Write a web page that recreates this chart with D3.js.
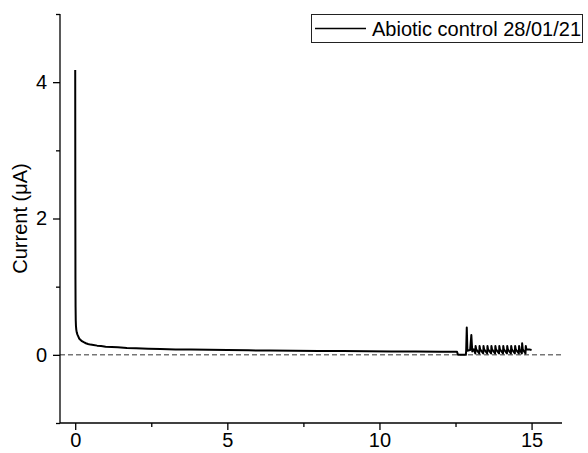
<!DOCTYPE html>
<html>
<head>
<meta charset="utf-8">
<script src="https://cdn.jsdelivr.net/npm/d3@7"></script>
<style>
  html, body { margin: 0; padding: 0; background: #fff; }
  svg { display: block; font-family: Arial, "Liberation Sans", sans-serif; }
</style>
</head>
<body>
<svg id="chart" width="588" height="453"></svg>
<script>
// ---- Data ----
const seriesName = "Abiotic control 28/01/21";
const time = [
  0, 0.004, 0.008, 0.012, 0.018, 0.025, 0.035, 0.05, 0.07, 0.1, 0.13, 0.17, 0.22, 0.28, 0.35, 0.42,
  0.5, 0.6, 0.72, 0.85, 1.0, 1.2, 1.4, 1.7, 2.0, 2.4, 2.8, 3.3, 3.8, 4.4, 5.0, 5.7, 6.4, 7.2,
  8.0, 8.8, 9.6, 10.4, 11.2, 12.0, 12.55,
  12.58, 12.84, 12.85, 12.87, 12.89, 12.98, 13.02, 13.05, 13.10,
  13.15, 13.16, 13.18, 13.28, 13.29, 13.31, 13.41, 13.42, 13.44, 13.54, 13.55, 13.57,
  13.67, 13.68, 13.70, 13.80, 13.81, 13.83, 13.93, 13.94, 13.96, 14.06, 14.07, 14.09,
  14.19, 14.20, 14.22, 14.32, 14.33, 14.35, 14.45, 14.46, 14.48, 14.58, 14.59, 14.61,
  14.68, 14.69, 14.71, 14.80, 14.81, 14.83, 14.92, 15.0
];
const current = [
  4.18, 2.2, 1.1, 0.7, 0.5, 0.42, 0.37, 0.33, 0.30, 0.27, 0.24, 0.22, 0.20, 0.185, 0.17, 0.16,
  0.15, 0.145, 0.135, 0.13, 0.12, 0.115, 0.11, 0.10, 0.095, 0.09, 0.085, 0.08, 0.077, 0.073, 0.07, 0.066, 0.063, 0.06,
  0.058, 0.055, 0.053, 0.05, 0.048, 0.046, 0.045,
  0.0, 0.0, 0.06, 0.40, 0.06, 0.07, 0.29, 0.05, 0.08,
  0.02, 0.13, 0.08, 0.02, 0.13, 0.08, 0.02, 0.13, 0.08, 0.02, 0.13, 0.08,
  0.02, 0.13, 0.08, 0.02, 0.13, 0.08, 0.02, 0.13, 0.08, 0.02, 0.13, 0.08,
  0.02, 0.13, 0.08, 0.02, 0.13, 0.08, 0.02, 0.13, 0.08, 0.02, 0.13, 0.08,
  0.02, 0.17, 0.08, 0.02, 0.13, 0.08, 0.08, 0.07
];
const xMajorTicks = [0, 5, 10, 15];
const xMinorTicks = [2.5, 7.5, 12.5];
const yMajorTicks = [0, 2, 4];
const yMinorTicks = [-1, 1, 3, 5];
const yLabel = "Current (μA)";

// ---- Layout ----
const svg = d3.select("#chart");
const x = d3.scaleLinear().domain([-0.5, 16]).range([60, 562]);
const y = d3.scaleLinear().domain([-1, 5]).range([423, 14]);
const data = time.map((t, i) => ({ t, v: current[i] }));

// zero reference dashed line
svg.append("line")
  .attr("x1", x(-0.5)).attr("x2", x(16))
  .attr("y1", y(0)).attr("y2", y(0))
  .attr("stroke", "#333").attr("stroke-width", 1)
  .attr("stroke-dasharray", "5,3");

// data line
svg.append("path")
  .datum(data)
  .attr("fill", "none")
  .attr("stroke", "#000")
  .attr("stroke-width", 2)
  .attr("stroke-linejoin", "round")
  .attr("d", d3.line().x(d => x(d.t)).y(d => y(d.v)));

// axes
const fontSize = "20px";
const xAxis = svg.append("g").attr("transform", `translate(0,${y(-1)})`)
  .call(d3.axisBottom(x).tickValues(xMajorTicks).tickSize(7).tickPadding(3).tickFormat(d3.format("d")));
const xMinor = svg.append("g").attr("transform", `translate(0,${y(-1)})`)
  .call(d3.axisBottom(x).tickValues(xMinorTicks).tickSize(4).tickFormat(""));
xMinor.select(".domain").remove();

const yAxis = svg.append("g").attr("transform", `translate(${x(-0.5)},0)`)
  .call(d3.axisLeft(y).tickValues(yMajorTicks).tickSize(7).tickPadding(6).tickFormat(d3.format("d")));
const yMinor = svg.append("g").attr("transform", `translate(${x(-0.5)},0)`)
  .call(d3.axisLeft(y).tickValues(yMinorTicks).tickSize(4).tickFormat(""));
yMinor.select(".domain").remove();

[xAxis, yAxis, xMinor, yMinor].forEach(g => {
  g.selectAll(".domain").attr("stroke", "#000").attr("stroke-width", 1.3);
  g.selectAll(".tick line").attr("stroke", "#000").attr("stroke-width", 1.3);
  g.selectAll(".tick text").attr("fill", "#000").style("font-size", fontSize)
    .style("font-family", "Arial, 'Liberation Sans', sans-serif");
});
xAxis.select(".domain").attr("d", `M${x(-0.5)},0H${x(16)}`);
yAxis.select(".domain").attr("d", `M0,${y(5)}V${y(-1)}`);

// y label
svg.append("text")
  .attr("transform", `translate(20,${(y(5) + y(-1)) / 2}) rotate(-90)`)
  .attr("text-anchor", "middle")
  .attr("dominant-baseline", "central")
  .style("font-size", fontSize)
  .attr("fill", "#000")
  .text(yLabel);

// legend
const lg = svg.append("g");
lg.append("rect")
  .attr("x", 311.5).attr("y", 14.5).attr("width", 271).attr("height", 28)
  .attr("fill", "#fff").attr("stroke", "#222").attr("stroke-width", 1);
lg.append("line")
  .attr("x1", 315).attr("x2", 366).attr("y1", 28.5).attr("y2", 28.5)
  .attr("stroke", "#000").attr("stroke-width", 1.3);
lg.append("text")
  .attr("x", 372).attr("y", 29)
  .attr("dominant-baseline", "central")
  .style("font-size", fontSize)
  .attr("fill", "#000")
  .text(seriesName);
</script>
</body>
</html>
